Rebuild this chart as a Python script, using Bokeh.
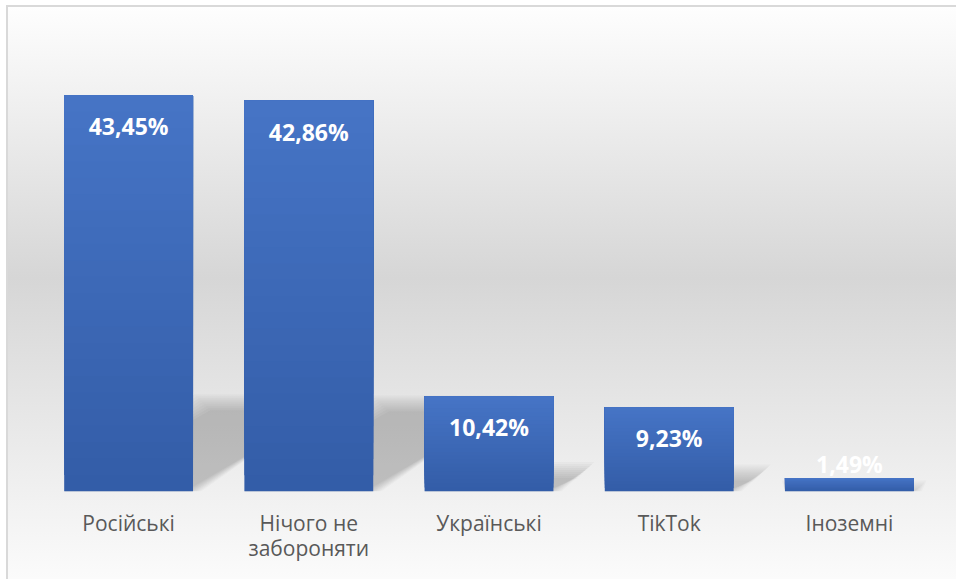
import numpy as np
from bokeh.plotting import figure
from bokeh.models import Range1d, FixedTicker, ColumnDataSource
from bokeh.core.properties import value
from bokeh.embed import file_html
from bokeh.resources import INLINE

categories = ["Російські", "Нічого не\nзабороняти", "Українські", "TikTok", "Іноземні"]
values = [43.45, 42.86, 10.42, 9.23, 1.49]
labels = ["43,45%", "42,86%", "10,42%", "9,23%", "1,49%"]

W, H = 956, 579
ML, MR, MT, MB = 38, 17, 35, 88
YMAX = 50
BAR_W = 0.715
p = figure(width=W, height=H, output_backend="svg", toolbar_location=None,
           x_range=Range1d(0, len(categories)), y_range=Range1d(0, YMAX),
           min_border_left=ML, min_border_right=MR, min_border_top=MT,
           min_border_bottom=MB)
p.background_fill_color = None
p.border_fill_color = None
p.outline_line_color = None
p.styles = {
    "background": (
        "linear-gradient(#d9d9d9,#d9d9d9) 6px 5px / 2px 100% no-repeat, "
        "linear-gradient(#d9d9d9,#d9d9d9) 6px 5px / 100% 2px no-repeat, "
        "linear-gradient(#ffffff,#ffffff) 0 0 / 6px 100% no-repeat, "
        "linear-gradient(#ffffff,#ffffff) 0 0 / 100% 5px no-repeat, "
        "linear-gradient(to bottom, #fefefe 1%, #d6d6d6 48%, #fbfbfb 100%)"
    ),
}

xs = [i + 0.5 for i in range(len(categories))]

# perspective shadows (soft, layered)
px_x = (W - ML - MR) / len(categories)
px_y = (H - MT - MB) / YMAX
for e in range(-8, 9, 2):
    pxs, pys = [], []
    for x, v in zip(xs, values):
        hs = 0.225 * v
        shift = 1.55 * hs * px_y / px_x
        dx = e / px_x
        dy = e / px_y
        x0, x1 = x - BAR_W / 2, x + BAR_W / 2
        top = max(hs + dy, 0)
        pxs.append([x0, x1 + dx, x1 + shift + dx, x0 + shift - dx])
        pys.append([0, 0, top, top])
    p.patches(pxs, pys, fill_color="black", fill_alpha=0.025, line_color=None)

# gradient bars (overlapping stacked slices, bottom to top)
top_c = np.array([0x46, 0x74, 0xC6])
bot_c = np.array([0x33, 0x5D, 0xA7])
N = 24
bx, btop, bbot, bcol = [], [], [], []
for k in range(N):
    t = (k + 0.5) / N
    c = bot_c + (top_c - bot_c) * t
    col = "#%02x%02x%02x" % tuple(int(round(a)) for a in c)
    for x, v in zip(xs, values):
        bx.append(x)
        bbot.append(v * k / N)
        btop.append(v)
        bcol.append(col)
p.vbar(x=bx, bottom=bbot, top=btop, width=BAR_W, fill_color=bcol,
       line_color=None)

offsets = [31 if v > 5 else -14 for v in values]
src = ColumnDataSource(dict(x=xs, y=values, t=labels, off=offsets))
p.text(x="x", y="y", text="t", y_offset="off", source=src, text_color="white",
       text_font=value("Open Sans"), text_font_style="bold",
       text_font_size="23px", text_align="center", text_baseline="middle")

p.xaxis.ticker = FixedTicker(ticks=xs)
p.xaxis.major_label_overrides = {x: c for x, c in zip(xs, categories)}
p.xaxis.axis_line_color = None
p.xaxis.major_tick_line_color = None
p.xaxis.minor_tick_line_color = None
p.xaxis.major_label_text_font = "Open Sans"
p.xaxis.major_label_text_font_size = "21px"
p.xaxis.major_label_text_color = "#595959"
p.xaxis.major_label_text_line_height = 0.9
p.xaxis.major_label_standoff = 11
p.yaxis.visible = False
p.grid.visible = False

open("out.html", "w").write(file_html(p, INLINE))
